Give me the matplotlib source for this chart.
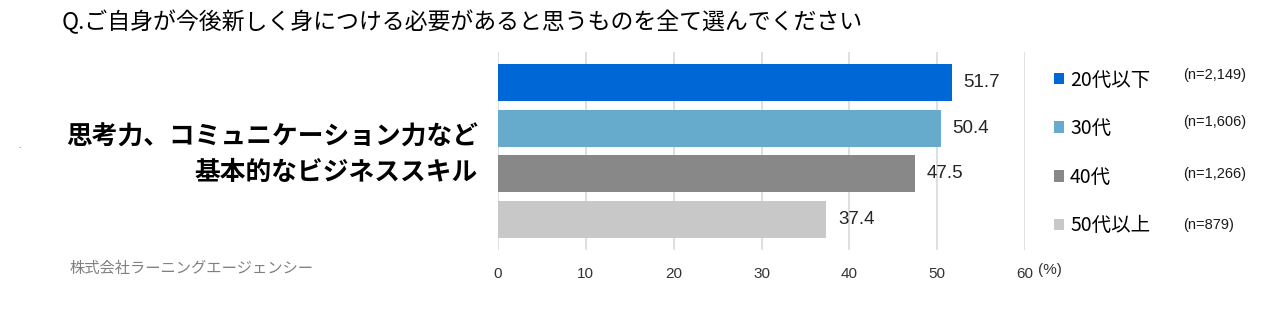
import matplotlib.pyplot as plt
from matplotlib.patches import Patch

plt.rcParams['font.family'] = ['Liberation Sans', 'Noto Sans CJK JP', 'DejaVu Sans']

titulo = 'Q.ご自身が今後新しく身につける必要があると思うものを全て選んでください'
categoria = '思考力、コミュニケーション力など\n基本的なビジネススキル'
grupos = ['20代以下', '30代', '40代', '50代以上']
amostras = ['(n=2,149)', '(n=1,606)', '(n=1,266)', '(n=879)']
valores = [51.7, 50.4, 47.5, 37.4]
cores = ['#0068D6', '#66AACC', '#888888', '#C8C8C8']
ticks = [0, 10, 20, 30, 40, 50, 60]
fonte = '株式会社ラーニングエージェンシー'

fig = plt.figure(figsize=(12.73, 3.34), dpi=100)
ax = fig.add_axes([498 / 1273, 84 / 334, 527 / 1273, 198 / 334])

pos = list(range(len(valores)))
ax.barh(pos, valores, height=0.81, color=cores, zorder=2)
for p, v in zip(pos, valores):
    ax.text(v + 1.3, p, f'{v:.1f}', va='center', ha='left', fontsize=13.5, color='#262626')

ax.set_xlim(0, 60)
ax.set_ylim(3.667, -0.667)
ax.set_xticks(ticks)
ax.set_xticklabels([str(t) for t in ticks], fontsize=11, color='#333333')
ax.set_yticks([])
ax.tick_params(axis='x', length=0, pad=12)
ax.grid(axis='x', color='#D9D9D9', linewidth=1.2, zorder=0)
for s in ax.spines.values():
    s.set_visible(False)

fig.text(1038 / 1273, 1 - 270 / 334, '(%)', fontsize=11, color='#333333', va='center')

fig.text(62 / 1273, 1 - 22 / 334, titulo, fontsize=16.5, va='center', ha='left',
         family=['Noto Sans CJK JP', 'DejaVu Sans'])
fig.text(478 / 1273, 1 - 155 / 334, categoria, fontsize=18.5, fontweight='bold',
         ha='right', va='center', linespacing=1.4, multialignment='right',
         family=['Noto Sans CJK JP', 'DejaVu Sans'])
fig.text(70 / 1273, 1 - 268 / 334, fonte, fontsize=11, color='#808080', va='center',
         family=['Noto Sans CJK JP', 'DejaVu Sans'])
fig.text(18 / 1273, 1 - 147 / 334, '.', fontsize=6, color='#333333', va='center')

handles = [Patch(facecolor=c) for c in cores]
leg = fig.legend(handles, grupos, loc='upper left', bbox_to_anchor=(1036 / 1273, 1 - 52 / 334),
                 frameon=False, handlelength=0.55, handleheight=0.55,
                 handletextpad=0.3, labelspacing=1.42, prop={'family': ['Noto Sans CJK JP'], 'size': 14})

ny = [75, 122, 174, 225]
for y, n in zip(ny, amostras):
    fig.text(1183 / 1273, 1 - y / 334, n, fontsize=10.5, va='center', ha='left', color='#1a1a1a')

fig.savefig('out.png', dpi=100, facecolor='white')
